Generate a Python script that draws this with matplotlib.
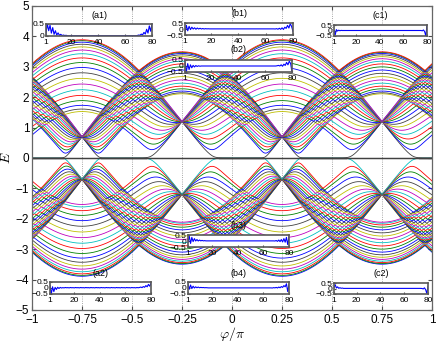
import numpy as np
import matplotlib
matplotlib.use('Agg')
import matplotlib.pyplot as plt

plt.rcParams['font.family'] = ['Liberation Sans', 'DejaVu Sans']
plt.rcParams['mathtext.fontset'] = 'cm'

# ---- band model parameters ----
# two SSH-like sub-chains (40 sites each, 80 sites total)
phi = np.linspace(-1, 1, 801)             # phi / pi
e_cross = [0.7, 1.2]                      # energy where a family collapses
amp = [2.8, 2.7]                          # inter-cell hopping amplitude
phi_zero = [-0.75, -0.25]                 # phi/pi where inter hopping vanishes
n_sites = 40

# MATLAB default colour order
morder = [(0, 0, 1), (0, 0.5, 0), (1, 0, 0), (0, 0.75, 0.75),
          (0.75, 0, 0.75), (0.75, 0.75, 0), (0.25, 0.25, 0.25)]

# ---- inset wave functions (site 1..80) ----
sites = np.arange(1, 81)
psi_a1 = ([0.12, 0.5, 0.22, 0.45, 0.12, 0.35, 0.07, 0.22, 0.04, 0.13, 0.03, 0.07,
           0.02, 0.04, 0.02, 0.03] + [0.01] * 52 +
          [0.02, 0.04, 0.03, 0.08, 0.05, 0.15, 0.08, 0.28, 0.12, 0.42, 0.2, 0.5])
psi_a2 = ([0.2, -0.5, 0.1, -0.3, 0.05, -0.12, 0.06, -0.04, 0.05, 0.0] +
          [0.03, 0.01, 0.04, 0.02] * 15 +
          [0.04, 0.08, 0.03, 0.12, 0.06, 0.2, 0.1, 0.3, 0.15, 0.4])
psi_b1 = ([-0.3, 0.3, -0.15, 0.22, -0.05, 0.15, 0.0, 0.1, -0.02, 0.08, 0.0, 0.06,
           0.0, 0.04, 0.0, 0.03, 0.01, 0.02] + [0.01] * 48 +
          [0.0, 0.03, -0.02, 0.06, -0.03, 0.1, -0.04, 0.15, 0.05, 0.3, 0.08, 0.45, 0.2, -0.2])
psi_b2 = ([0.3, -0.5, 0.2, -0.3, 0.1, -0.15, 0.05, -0.08, 0.04, -0.04, 0.02, -0.02] +
          [0.0] * 56 +
          [0.02, 0.05, 0.0, 0.1, -0.02, 0.15, 0.05, 0.3, 0.1, 0.4, 0.2, -0.5])
psi_b3 = ([-0.1, 0.4, -0.2, 0.3, -0.05, 0.2, 0.0, 0.12, 0.0, 0.08, 0.01, 0.05,
           0.01, 0.03] + [0.01] * 54 +
          [0.0, 0.04, -0.03, 0.08, -0.05, 0.12, -0.08, 0.2, -0.1, 0.3, -0.3, 0.35])
psi_b4 = ([0.35, -0.1, 0.25, -0.05, 0.15, 0.0, 0.1, 0.02, 0.08, 0.02, 0.05, 0.03,
           0.04, 0.02, 0.03, 0.02] + [0.01] * 50 +
          [0.0, 0.03, 0.01, 0.05, 0.0, 0.08, 0.02, 0.12, 0.05, 0.2, 0.1, 0.35, -0.3, 0.3])
psi_c1 = ([0.0, -0.4, 0.08, -0.05, 0.03, -0.02, 0.01] + [0.0] * 67 +
          [0.0, -0.03, 0.05, -0.1, -0.5, 0.5])
psi_c2 = ([0.1, 0.35, 0.05, 0.15, 0.02, 0.07, 0.02, 0.04] + [0.01] * 66 +
          [0.0, -0.04, 0.06, -0.1, -0.45, 0.2])

# ---- build spectrum ----
def ssh_levels(t1, t2, n):
    hop = np.array([t1 if i % 2 == 0 else t2 for i in range(n - 1)])
    H = np.diag(hop, 1) + np.diag(hop, -1)
    return np.linalg.eigvalsh(H)

E = np.zeros((len(phi), 2 * n_sites))
for i, x in enumerate(phi):
    lev = []
    for f in range(2):
        q = amp[f] * np.sin(np.pi * (x - phi_zero[f]))
        lev.append(ssh_levels(e_cross[f], q, n_sites))
    E[i] = np.sort(np.concatenate(lev))

W, H = 436, 343
fig = plt.figure(figsize=(W / 100, H / 100), dpi=100)
ax = fig.add_axes([32 / W, 1 - 310 / H, 400 / W, 304 / H])

for j in range(E.shape[1]):
    ax.plot(phi, E[:, j], color=morder[j % 7], lw=0.6)

# zero modes drawn on top in the dark grey of the colour order
zero = np.where(np.abs(E) < 0.01, 0.0, np.nan)
for j in range(E.shape[1]):
    if np.any(np.isfinite(zero[:, j])):
        ax.plot(phi, zero[:, j], color=morder[6], lw=0.9)

ax.set_xlim(-1, 1)
ax.set_ylim(-5, 5)
xt = [-1, -0.75, -0.5, -0.25, 0, 0.25, 0.5, 0.75, 1]
ax.set_xticks(xt)
ax.set_xticklabels(['\u22121', '\u22120.75', '\u22120.5', '\u22120.25', '0',
                    '0.25', '0.5', '0.75', '1'])
ax.set_yticks(range(-5, 6))
ax.grid(axis='x', linestyle=':', color='0.55', lw=0.6)
ax.set_axisbelow(True)
ax.tick_params(direction='in', length=3, labelsize=8.5, top=True, right=True,
               colors='0.3', labelcolor='k')
ax.tick_params(axis='x', pad=3)
ax.tick_params(axis='y', pad=2)
for s in ax.spines.values():
    s.set_color('0.4')
    s.set_linewidth(0.9)
ax.set_xlabel(r'$\varphi/\pi$', fontsize=10, labelpad=-1)
ax.set_ylabel(r'$E$', fontsize=10, labelpad=2)

# ---- insets ----
insets = [
    ('(a1)', (46, 24, 152, 36), psi_a1, (0, 0.5), 15),
    ('(b1)', (185, 23, 293, 35), psi_b1, (-0.5, 0.5), 13),
    ('(b2)', (185, 60, 292, 72), psi_b2, (-0.5, 0.5), 50),
    ('(c1)', (334, 25, 427, 36), psi_c1, (-0.5, 0.5), 16),
    ('(b3)', (188, 235, 289, 247), psi_b3, (-0.5, 0.5), 225),
    ('(a2)', (50, 282, 151, 294), psi_a2, (-0.5, 0.5), 273),
    ('(b4)', (188, 282, 289, 294), psi_b4, (-0.5, 0.5), 273),
    ('(c2)', (334, 283, 428, 294), psi_c2, (-0.5, 0.5), 273),
]
for name, (l, t, r, b), psi, yl, ty in insets:
    ia = fig.add_axes([l / W, 1 - b / H, (r - l) / W, (b - t) / H])
    ia.plot(sites, psi, color='b', lw=0.8)
    ia.set_xlim(1, 80)
    ia.set_ylim(yl)
    ia.set_xticks([1, 20, 40, 60, 80])
    if yl[0] == 0:
        ia.set_yticks([0, 0.5])
        ia.set_yticklabels(['0', '0.5'])
    else:
        ia.set_yticks([-0.5, 0, 0.5])
        ia.set_yticklabels(['\u22120.5', '0', '0.5'])
    ia.tick_params(direction='in', length=1.5, labelsize=6, colors='0.3',
                   labelcolor='k')
    ia.tick_params(axis='x', pad=2.5)
    ia.tick_params(axis='y', pad=1)
    for s in ia.spines.values():
        s.set_color('0.35')
        s.set_linewidth(1.2)
    fig.text((l + r) / 2 / W, 1 - ty / H, name, ha='center', va='center', fontsize=6.5)

fig.savefig('out.png', dpi=100)
